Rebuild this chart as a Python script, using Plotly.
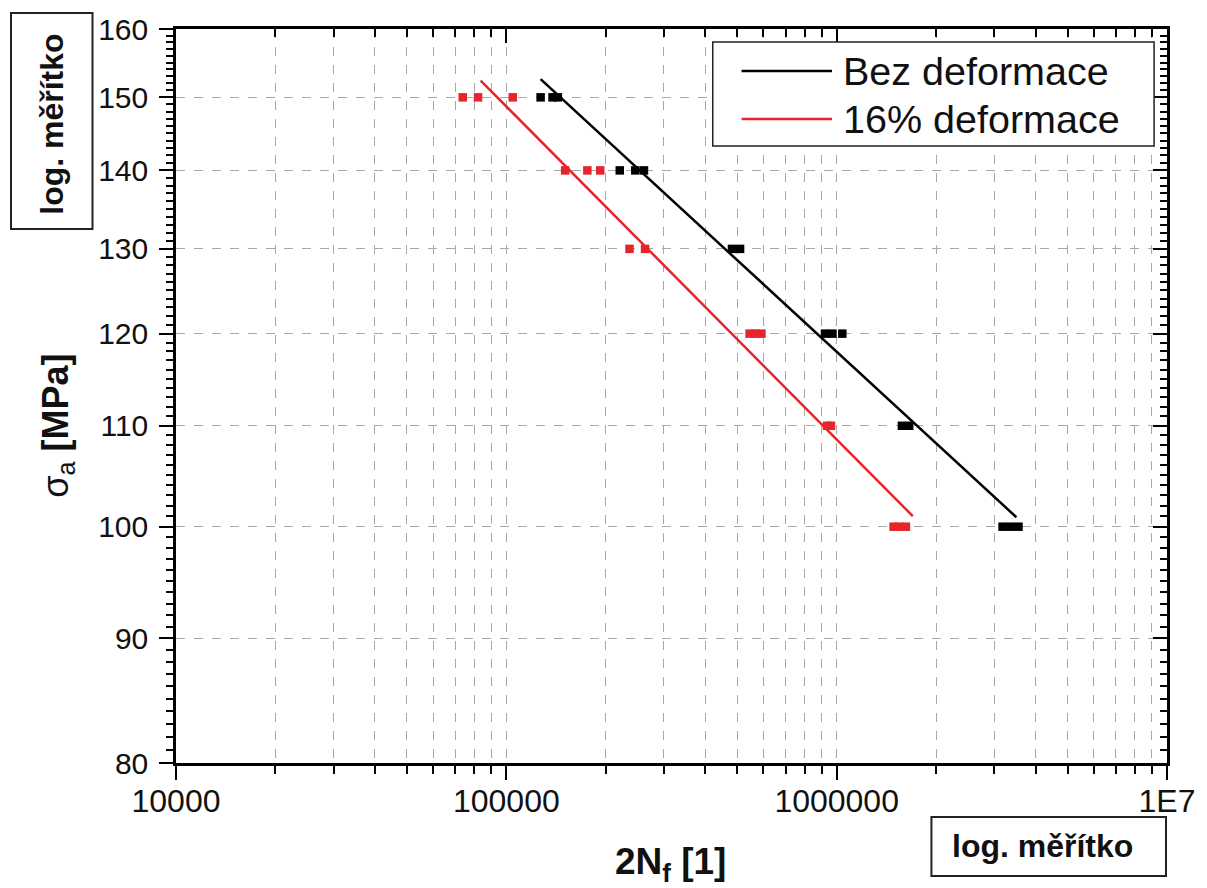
import numpy as np
import plotly.graph_objects as go

# ---------------- data ----------------
bez_N = [127000, 138000, 143200,
         220500, 245700, 261000,
         482000, 510000,
         922000, 971000, 1040000,
         1576000, 1658000,
         3179000, 3360000, 3551000]
bez_S = [150, 150, 150,
         140, 140, 140,
         130, 130,
         120, 120, 120,
         110, 110,
         100, 100, 100]

def16_N = [73800, 82100, 104600,
           150700, 175900, 192400,
           236000, 263000,
           545000, 568000, 592000,
           935000, 961000,
           1487000, 1547000, 1620000]
def16_S = [150, 150, 150,
           140, 140, 140,
           130, 130,
           120, 120, 120,
           110, 110,
           100, 100, 100]

# fitted lines (end points)
fit_bez_N = [127000, 3500000]
fit_bez_S = [152.6, 100.9]
fit_def16_N = [83600, 1700000]
fit_def16_S = [152.4, 101.0]

x_tickvals = [1e4, 1e5, 1e6, 1e7]
x_ticktext = ["10000", "100000", "1000000", "1E7"]
y_tickvals = [80, 90, 100, 110, 120, 130, 140, 150, 160]

legend_names = ["Bez deformace", "16% deformace"]

BLACK = "#000000"
RED = "#e5242b"
TXT = "#111111"
FONT = "Liberation Sans, Arial, sans-serif"

x_minor = [m * 10 ** d for d in (4, 5, 6) for m in range(2, 10)]
y_minor = [v for v in range(81, 160) if v % 10 != 0]

fig = go.Figure()

fig.add_trace(go.Scatter(x=fit_bez_N, y=fit_bez_S, mode="lines",
                         line=dict(color=BLACK, width=2.5),
                         name=legend_names[0], showlegend=False))
fig.add_trace(go.Scatter(x=fit_def16_N, y=fit_def16_S, mode="lines",
                         line=dict(color=RED, width=2.5),
                         name=legend_names[1], showlegend=False))
fig.add_trace(go.Scatter(x=bez_N, y=bez_S, mode="markers",
                         marker=dict(symbol="square", size=8.5, color=BLACK,
                                     line=dict(width=0)),
                         name=legend_names[0], showlegend=False))
fig.add_trace(go.Scatter(x=def16_N, y=def16_S, mode="markers",
                         marker=dict(symbol="square", size=8.5, color=RED,
                                     line=dict(width=0)),
                         name=legend_names[1], showlegend=False))
# empty trace to carry the mirrored (top / right) axes
fig.add_trace(go.Scatter(x=[], y=[], xaxis="x2", yaxis="y2",
                         showlegend=False, hoverinfo="skip"))

xrange = [4, 7]
yrange = [np.log10(80), np.log10(160)]

common_x = dict(type="log", range=xrange, tickvals=x_tickvals,
                showline=True, linecolor=BLACK, linewidth=2.5,
                zeroline=False)
common_y = dict(type="log", range=yrange, tickvals=y_tickvals,
                showline=True, linecolor=BLACK, linewidth=2.5,
                zeroline=False)

fig.update_layout(
    width=1207, height=888,
    margin=dict(l=176, r=34, t=29, b=125),
    paper_bgcolor="white", plot_bgcolor="white",
    showlegend=False,
    font=dict(family=FONT, color=TXT),
    xaxis=dict(**common_x, ticktext=x_ticktext,
               ticks="outside", ticklen=14, tickwidth=2, tickcolor=BLACK,
               tickfont=dict(size=32, family=FONT, color=TXT),
               ticklabelstandoff=-6,
               showgrid=True, gridcolor="#a8a8a8", griddash="dash", gridwidth=1,
               minor=dict(tickvals=x_minor, ticks="outside", ticklen=8,
                          tickwidth=2, tickcolor=BLACK, showgrid=True,
                          gridcolor="#a8a8a8", griddash="dash", gridwidth=1)),
    yaxis=dict(**common_y,
               ticks="outside", ticklen=14, tickwidth=2, tickcolor=BLACK,
               tickfont=dict(size=30, family=FONT, color=TXT),
               ticklabelstandoff=5,
               showgrid=True, gridcolor="#a8a8a8", griddash="dash", gridwidth=1,
               minor=dict(tickvals=y_minor, ticks="outside", ticklen=7,
                          tickwidth=2, tickcolor=BLACK, showgrid=False)),
    xaxis2=dict(**common_x, overlaying="x", side="top", anchor="y2",
                showticklabels=False, showgrid=False,
                ticks="inside", ticklen=14, tickwidth=2, tickcolor=BLACK,
                minor=dict(tickvals=x_minor, ticks="inside", ticklen=8,
                           tickwidth=2, tickcolor=BLACK, showgrid=False)),
    yaxis2=dict(**common_y, overlaying="y", side="right", anchor="x2",
                showticklabels=False, showgrid=False,
                ticks="inside", ticklen=14, tickwidth=2, tickcolor=BLACK,
                minor=dict(tickvals=y_minor, ticks="inside", ticklen=7,
                           tickwidth=2, tickcolor=BLACK, showgrid=False)),
)

# ---- legend (drawn as a box) ----
def px_x(p):
    return (p - 176) / 997.0

def px_y(p):
    return (763 - p) / 734.0

shapes = []
annotations = []

shapes.append(dict(type="rect", xref="paper", yref="paper",
                   x0=px_x(716), x1=px_x(1160), y0=px_y(146), y1=px_y(42),
                   line=dict(color="#222222", width=1.5), fillcolor="white",
                   layer="above"))
for yy, col, name in [(71, BLACK, legend_names[0]), (119, RED, legend_names[1])]:
    shapes.append(dict(type="line", xref="paper", yref="paper",
                       x0=px_x(745), x1=px_x(836), y0=px_y(yy), y1=px_y(yy),
                       line=dict(color=col, width=2.5), layer="above"))
    annotations.append(dict(xref="paper", yref="paper", x=px_x(845), y=px_y(yy),
                            xanchor="left", yanchor="middle", showarrow=False,
                            text=name, font=dict(size=39.5, family=FONT, color=TXT)))

# ---- axis titles ----
annotations.append(dict(xref="paper", yref="paper", x=px_x(57), y=px_y(426),
                        xanchor="center", yanchor="middle", showarrow=False,
                        textangle=-90,
                        text="σ<sub>a</sub> <b>[MPa]</b>",
                        font=dict(size=36, family=FONT, color=TXT)))
annotations.append(dict(xref="paper", yref="paper", x=px_x(673), y=px_y(864),
                        xanchor="center", yanchor="middle", showarrow=False,
                        text="<b>2N<sub>f</sub> [1]</b>",
                        font=dict(size=37, family=FONT, color=TXT)))

# ---- "log. měřítko" boxes ----
shapes.append(dict(type="rect", xref="paper", yref="paper",
                   x0=px_x(10), x1=px_x(92), y0=px_y(229), y1=px_y(13),
                   line=dict(color="#222222", width=2), fillcolor="white"))
annotations.append(dict(xref="paper", yref="paper", x=px_x(51), y=px_y(124),
                        xanchor="center", yanchor="middle", showarrow=False,
                        textangle=-90, text="<b>log. měřítko</b>",
                        font=dict(size=32, family=FONT, color=TXT)))
shapes.append(dict(type="rect", xref="paper", yref="paper",
                   x0=px_x(936), x1=px_x(1172), y0=px_y(876), y1=px_y(817),
                   line=dict(color="#222222", width=2), fillcolor="white"))
annotations.append(dict(xref="paper", yref="paper", x=px_x(1048), y=px_y(846),
                        xanchor="center", yanchor="middle", showarrow=False,
                        text="<b>log. měřítko</b>",
                        font=dict(size=32, family=FONT, color=TXT)))

fig.update_layout(shapes=shapes, annotations=annotations)

fig.write_html("out.html")
